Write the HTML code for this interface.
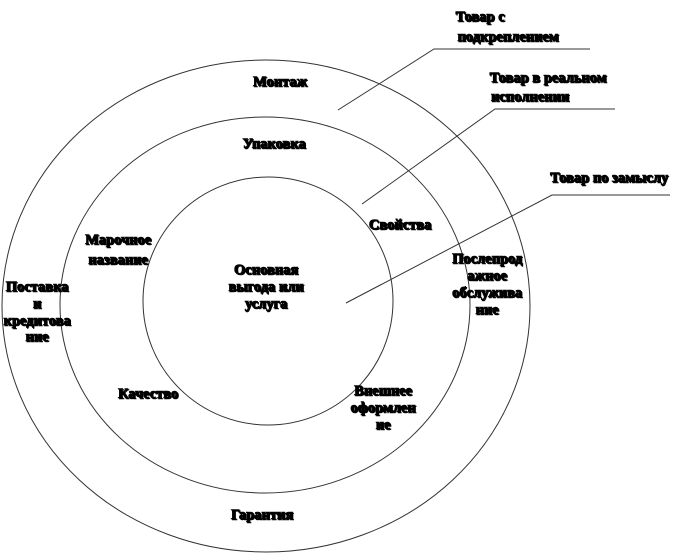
<!DOCTYPE html>
<html><head><meta charset="utf-8"><style>
html,body{margin:0;padding:0;background:#fff;width:685px;height:555px;overflow:hidden}
svg text{font-family:"Liberation Serif",serif;font-size:14.5px;font-weight:bold;fill:#000;text-anchor:middle;stroke:#000;stroke-width:0.6px}
</style></head><body>
<svg width="685" height="555" viewBox="0 0 685 555" xmlns="http://www.w3.org/2000/svg">
<g fill="none" stroke="#333" stroke-width="1">
<ellipse cx="266" cy="306" rx="264" ry="246"/>
<ellipse cx="265" cy="305" rx="205" ry="188"/>
<ellipse cx="268" cy="301" rx="125" ry="124"/>
<polyline points="338,110 434,49 590,49"/>
<polyline points="362,204 495,109 615,109"/>
<polyline points="346,303 552,195 670,195"/>
</g>
<g style="text-shadow:1px 1px 0 #000">
<text x="480" y="21">Товар с</text>
<text x="508" y="41">подкреплением</text>
<text x="548" y="82">Товар в реальном</text>
<text x="530" y="101">исполнении</text>
<text x="609" y="182">Товар по замыслу</text>
<text x="280" y="86">Монтаж</text>
<text x="274" y="148">Упаковка</text>
<text x="400" y="229">Свойства</text>
<text x="118" y="244">Марочное</text>
<text x="118" y="264">название</text>
<text x="266" y="274">Основная</text>
<text x="266" y="291">выгода или</text>
<text x="266" y="308">услуга</text>
<text x="37" y="291">Поставка</text>
<text x="37" y="308">и</text>
<text x="37" y="325">кредитова</text>
<text x="37" y="341">ние</text>
<text x="487" y="263">Послепрод</text>
<text x="487" y="280">ажное</text>
<text x="487" y="297">обслужива</text>
<text x="487" y="314">ние</text>
<text x="148" y="398">Качество</text>
<text x="383" y="395">Внешнее</text>
<text x="383" y="412">оформлен</text>
<text x="383" y="429">ие</text>
<text x="262" y="519">Гарантия</text>
</g>
</svg>
</body></html>
